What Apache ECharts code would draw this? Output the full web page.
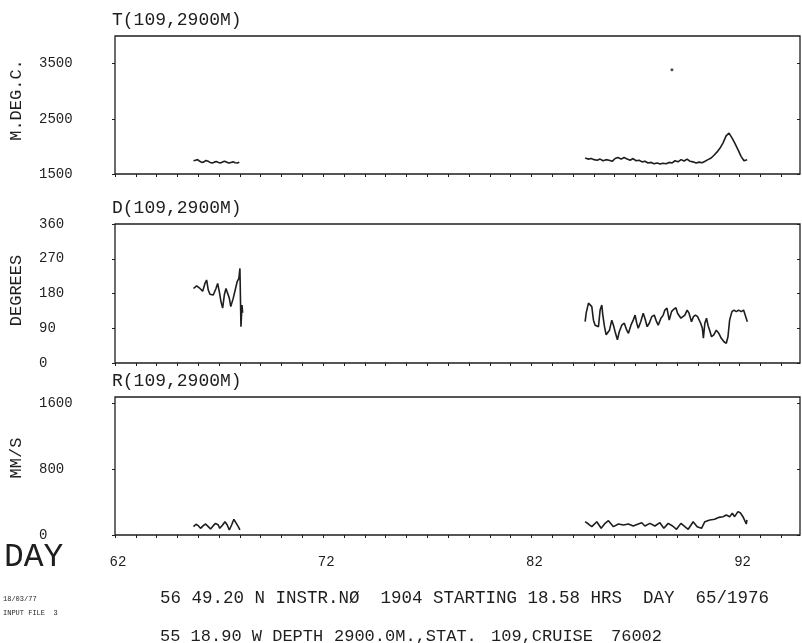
<!DOCTYPE html>
<html>
<head>
<meta charset="utf-8">
<script src="https://cdn.jsdelivr.net/npm/echarts@6/dist/echarts.min.js"></script>
<style>
  html, body { margin: 0; padding: 0; background: #fff; }
  #chart { width: 802px; height: 643px; }
</style>
</head>
<body>
<div id="chart"></div>
<script>
// Current meter record, station 109, 2900 m — temperature, direction, speed vs. day of year 1976

// Temperature (milli-degrees C)
const tempDaysA = [65.77, 65.87, 65.97, 66.07, 66.17, 66.27, 66.37, 66.47, 66.57, 66.67, 66.77, 66.87,
  66.97, 67.07, 67.17, 67.27, 67.37, 67.47, 67.57, 67.67, 67.77, 67.87, 67.97];
const tempValsA = [1740, 1750, 1760, 1730, 1710, 1720, 1745, 1730, 1710, 1700, 1715, 1725,
  1710, 1700, 1720, 1730, 1715, 1700, 1710, 1720, 1705, 1700, 1715];
const tempDaysB = [84.58, 84.72, 84.87, 85.01, 85.16, 85.30, 85.44, 85.59, 85.73, 85.88, 86.02, 86.16,
  86.31, 86.45, 86.60, 86.74, 86.88, 87.03, 87.17, 87.32, 87.46, 87.60, 87.75, 87.89, 88.04, 88.18,
  88.32, 88.47, 88.61, 88.76, 88.90, 89.04, 89.19, 89.33, 89.48, 89.62, 89.76, 89.91, 90.05, 90.20,
  90.34, 90.48, 90.63, 90.77, 90.92, 91.06, 91.20, 91.35, 91.49, 91.64, 91.78, 91.92, 92.07, 92.21, 92.36];
const tempValsB = [1790, 1770, 1780, 1760, 1750, 1770, 1740, 1760, 1750, 1730, 1780, 1800,
  1770, 1800, 1770, 1750, 1780, 1740, 1750, 1720, 1730, 1700, 1710, 1685, 1700, 1680,
  1695, 1685, 1710, 1700, 1740, 1720, 1760, 1735, 1770, 1730, 1720, 1700, 1715, 1705,
  1730, 1760, 1790, 1840, 1900, 1970, 2060, 2190, 2240, 2150, 2050, 1940, 1820, 1740, 1760];
const tempStrayDays = [88.75];
const tempStrayVals = [3390];

// Direction (degrees)
const dirDaysA = [65.77, 65.92, 66.00, 66.08, 66.21, 66.32, 66.40, 66.48, 66.56, 66.64, 66.72, 66.85,
  66.93, 67.01, 67.09, 67.17, 67.25, 67.33, 67.41, 67.49, 67.56, 67.68, 67.79, 67.87, 67.95, 68.00,
  68.05, 68.10, 68.13];
const dirValsA = [193, 200, 204, 193, 186, 206, 215, 189, 178, 183, 176, 193,
  206, 185, 159, 142, 176, 193, 198, 168, 146, 168, 193, 211, 219, 245,
  94, 150, 130];
const dirDaysB = [84.58, 84.63, 84.74, 84.82, 84.90, 84.98, 85.06, 85.14, 85.22, 85.30, 85.38, 85.43,
  85.51, 85.59, 85.67, 85.75, 85.86, 85.94, 86.02, 86.13, 86.22, 86.34, 86.46, 86.58, 86.66, 86.78,
  86.89, 86.98, 87.06, 87.13, 87.25, 87.37, 87.45, 87.56, 87.66, 87.78, 87.90, 88.01, 88.09, 88.22,
  88.33, 88.41, 88.51, 88.62, 88.73, 88.83, 88.94, 89.02, 89.10, 89.18, 89.26, 89.37, 89.48, 89.57,
  89.69, 89.78, 89.88, 89.98, 90.05, 90.13, 90.21, 90.26, 90.33, 90.41, 90.48, 90.56, 90.65, 90.76,
  90.88, 91.00, 91.12, 91.25, 91.36, 91.44, 91.52, 91.63, 91.73, 91.84, 91.95, 92.08, 92.19, 92.27, 92.37];
const dirValsB = [107, 129, 155, 159, 146, 111, 98, 103, 94, 137, 150, 124,
  94, 73, 68, 85, 111, 98, 81, 60, 81, 98, 103, 85, 77, 98,
  111, 124, 103, 90, 107, 129, 116, 94, 103, 120, 124, 107, 98, 116,
  124, 137, 142, 111, 133, 139, 143, 129, 133, 116, 120, 124, 137, 129,
  107, 120, 124, 120, 116, 103, 90, 64, 103, 116, 98, 85, 68, 73,
  85, 77, 64, 55, 51, 68, 111, 133, 137, 133, 137, 133, 137, 133, 107];

// Speed (mm/s)
const spdDaysA = [65.77, 65.89, 66.00, 66.11, 66.24, 66.35, 66.48, 66.59, 66.72, 66.83, 66.96, 67.03,
  67.17, 67.28, 67.39, 67.49, 67.60, 67.71, 67.80, 67.92, 68.00];
const spdValsA = [101, 130, 113, 81, 113, 133, 101, 73, 113, 141, 121, 81,
  121, 161, 121, 61, 121, 190, 182, 101, 61];
const spdDaysB = [84.58, 84.74, 84.90, 85.14, 85.35, 85.54, 85.70, 85.94, 86.18, 86.42, 86.66, 86.89,
  87.13, 87.30, 87.45, 87.69, 87.93, 88.17, 88.36, 88.57, 88.78, 88.97, 89.18, 89.37, 89.53, 89.77,
  89.96, 90.17, 90.33, 90.57, 90.80, 91.01, 91.20, 91.36, 91.52, 91.65, 91.76, 91.92, 92.03, 92.16,
  92.32, 92.35];
const spdValsB = [161, 133, 101, 161, 81, 141, 173, 101, 133, 121, 133, 109,
  133, 149, 109, 141, 109, 149, 81, 141, 109, 69, 141, 101, 69, 161,
  101, 81, 161, 182, 190, 214, 222, 242, 222, 263, 222, 283, 270, 222,
  133, 182];

// Axis ticks and labels
const dayLabels = [62, 72, 82, 92];
const tempTicks = [1500, 2500, 3500];
const dirTicks = [0, 90, 180, 270, 360];
const spdTicks = [0, 800, 1600];

const dayTicks = [];
for (let d = 62; d <= 94; d++) dayTicks.push(d);

// Run header: line 1 as one string, line 2 in the plotter's word groups
const headerLine1 = '56 49.20 N INSTR.NØ  1904 STARTING 18.58 HRS  DAY  65/1976';
const headerLine2 = ['55 18.90 W DEPTH', '2900.0M.,STAT.', '109,CRUISE', '76002'];
const headerLine2X = [160, 334, 491, 611];

const pair = (xs, ys) => xs.map((x, i) => [x, ys[i]]);

const INK = '#1e1e1e';
const FONT = '"Liberation Mono", "DejaVu Sans Mono", monospace';

const panels = [
  { title: 'T(109,2900M)', unit: 'M.DEG.C.', min: 1500, max: 4000, ticks: tempTicks, top: 36, height: 138, nameShift: 10,
    segs: [pair(tempDaysA, tempValsA), pair(tempDaysB, tempValsB)], stray: pair(tempStrayDays, tempStrayVals) },
  { title: 'D(109,2900M)', unit: 'DEGREES', min: 0, max: 360, ticks: dirTicks, top: 224, height: 139, nameShift: 6,
    segs: [pair(dirDaysA, dirValsA), pair(dirDaysB, dirValsB)] },
  { title: 'R(109,2900M)', unit: 'MM/S', min: 0, max: 1672, ticks: spdTicks, top: 397, height: 138, nameShift: 16,
    segs: [pair(spdDaysA, spdValsA), pair(spdDaysB, spdValsB)] }
];

const grid = [], xAxis = [], yAxis = [], series = [], graphic = [];

panels.forEach((p, i) => {
  grid.push({ left: 113, top: p.top, width: 687, height: p.height, show: true,
    borderColor: INK, borderWidth: 1.3, backgroundColor: 'transparent' });

  xAxis.push({
    type: 'value', gridIndex: i, min: 62, max: 94.9,
    axisLine: { show: false }, splitLine: { show: false },
    axisTick: { show: true, customValues: dayTicks, length: 3, lineStyle: { color: INK, width: 1 } },
    axisLabel: { show: i === 2, customValues: dayLabels, margin: 20, formatter: v => String(v),
      fontFamily: FONT, fontSize: 14, color: INK, padding: [0, 0, 0, 6] }
  });

  const leftIdx = yAxis.length;
  yAxis.push({
    type: 'value', gridIndex: i, position: 'left', min: p.min, max: p.max,
    name: p.unit, nameLocation: 'middle', nameGap: 90,
    nameTextStyle: { fontFamily: FONT, fontSize: 17, color: INK, padding: [0, 0, 0, p.nameShift] },
    axisLine: { show: false }, splitLine: { show: false },
    axisTick: { show: true, customValues: p.ticks, length: 3, lineStyle: { color: INK } },
    axisLabel: { customValues: p.ticks, align: 'left', margin: 76, formatter: v => String(v),
      fontFamily: FONT, fontSize: 14, color: INK }
  });
  yAxis.push({
    type: 'value', gridIndex: i, position: 'right', min: p.min, max: p.max,
    axisLine: { show: false }, splitLine: { show: false },
    axisTick: { show: true, inside: true, customValues: p.ticks, length: 3, lineStyle: { color: INK } },
    axisLabel: { show: false }
  });

  p.segs.forEach(seg => {
    series.push({
      type: 'line', xAxisIndex: i, yAxisIndex: leftIdx, data: seg,
      showSymbol: false, silent: true,
      lineStyle: { color: INK, width: 1.6 }
    });
  });
  if (p.stray) {
    series.push({ type: 'scatter', xAxisIndex: i, yAxisIndex: leftIdx, data: p.stray,
      symbolSize: 3, itemStyle: { color: INK } });
  }

  graphic.push({ type: 'text', left: 112, top: p.top - 25,
    style: { text: p.title, fontFamily: FONT, fontSize: 18, fill: INK } });
});

// Axis caption and run identification
graphic.push(
  { type: 'text', left: 4, top: 541, style: { text: 'DAY', fontFamily: FONT, fontSize: 33, fill: INK } },
  { type: 'text', left: 3, top: 596, style: { text: '18/03/77', fontFamily: FONT, fontSize: 7, fill: INK } },
  { type: 'text', left: 3, top: 610, style: { text: 'INPUT FILE  3', fontFamily: FONT, fontSize: 7, fill: INK } },
  { type: 'text', left: 160, top: 589, style: { text: headerLine1, fontFamily: FONT, fontSize: 17.5, fill: INK } }
);
headerLine2.forEach((t, k) => graphic.push({ type: 'text', left: headerLine2X[k], top: 628,
  style: { text: t, fontFamily: FONT, fontSize: 17, fill: INK } }));

const chart = echarts.init(document.getElementById('chart'), null, { renderer: 'canvas' });
chart.setOption({
  animation: false,
  backgroundColor: '#ffffff',
  grid, xAxis, yAxis, series, graphic
});
</script>
</body>
</html>
